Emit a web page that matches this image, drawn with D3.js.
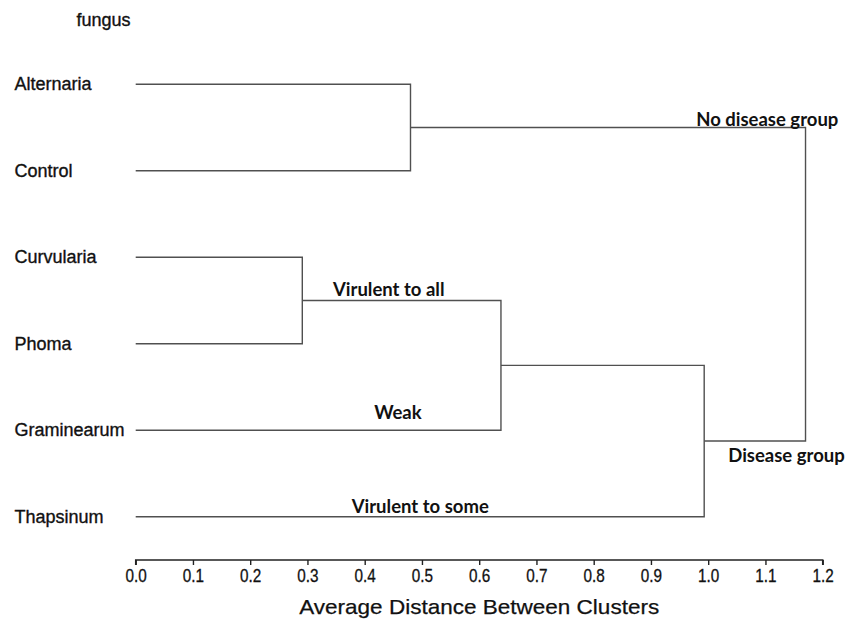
<!DOCTYPE html>
<html>
<head>
<meta charset="utf-8">
<script src="https://cdn.jsdelivr.net/npm/d3@7"></script>
<style>
  html, body { margin: 0; padding: 0; background: #fff; }
  svg { display: block; }
</style>
</head>
<body>
<svg id="chart" width="857" height="628"></svg>
<script>
// ---- data ----
const leaves = ["Alternaria", "Control", "Curvularia", "Phoma", "Graminearum", "Thapsinum"];
// merges (linkage): children refer to leaf names or merge ids "m0".."m4"
const mergeIds    = ["m0", "m1", "m2", "m3", "m4"];
const mergeLeft   = ["Alternaria", "Curvularia", "m1", "m2", "m0"];
const mergeRight  = ["Control", "Phoma", "Graminearum", "Thapsinum", "m3"];
const mergeHeight = [0.480, 0.291, 0.638, 0.993, 1.170];
const tickValues  = [0.0, 0.1, 0.2, 0.3, 0.4, 0.5, 0.6, 0.7, 0.8, 0.9, 1.0, 1.1, 1.2];
const axisTitle   = "Average Distance Between Clusters";
const leafTitle   = "fungus";
// group annotations: text, attached node
const annoText = ["No disease group", "Virulent to all", "Weak", "Virulent to some", "Disease group"];
const annoNode = ["m0", "m1", "Graminearum", "Thapsinum", "m3"];

// ---- build hierarchy ----
const nodes = {};
leaves.forEach(n => nodes[n] = { name: n, height: 0 });
mergeIds.forEach((id, i) => {
  nodes[id] = { name: id, height: mergeHeight[i], children: [nodes[mergeLeft[i]], nodes[mergeRight[i]]] };
});
const root = d3.hierarchy(nodes["m4"]);

// ---- scales ----
const x = d3.scaleLinear().domain([0, 1.2]).range([135.7, 822.7]);
const y = d3.scalePoint().domain(leaves).range([84.3, 516.7]);

root.eachAfter(d => {
  d.px = x(d.data.height);
  d.py = d.children ? d3.mean(d.children, c => c.py) : y(d.data.name);
});

const svg = d3.select("#chart");
const lineColor = "#505050";
const textColor = "#111";
const sans = "Liberation Sans, Arial, sans-serif";

// ---- dendrogram links ----
const g = svg.append("g").attr("fill", "none").attr("stroke", lineColor).attr("stroke-width", 1.4);
root.descendants().filter(d => d.children).forEach(d => {
  const [a, b] = d.children;
  const path = d3.path();
  path.moveTo(a.px, a.py);
  path.lineTo(d.px, a.py);
  path.lineTo(d.px, b.py);
  path.lineTo(b.px, b.py);
  g.append("path").attr("d", path.toString());
});

// ---- leaf labels ----
svg.append("g").selectAll("text").data(leaves).join("text")
  .attr("x", 14.5)
  .attr("y", d => y(d) + 6)
  .attr("font-family", sans)
  .attr("font-size", 18)
  .attr("fill", textColor).attr("stroke", textColor).attr("stroke-width", 0.35)
  .text(d => d);

svg.append("text")
  .attr("x", 103.5).attr("y", 26)
  .attr("text-anchor", "middle")
  .attr("font-family", sans)
  .attr("font-size", 18)
  .attr("fill", textColor).attr("stroke", textColor).attr("stroke-width", 0.35)
  .text(leafTitle);

// ---- axis ----
const axis = d3.axisBottom(x).tickValues(tickValues).tickFormat(d3.format(".1f")).tickSize(5).tickPadding(4);
const ax = svg.append("g").attr("transform", "translate(0,560)").call(axis);
ax.select(".domain").attr("stroke", "#222").attr("stroke-width", 1.5).attr("d", `M${x(0)},5V0H${x(1.2)}V5`);
ax.selectAll(".tick line").attr("stroke", "#222").attr("stroke-width", 1.4);
ax.selectAll(".tick text")
  .attr("font-family", sans)
  .attr("font-size", 18)
  .attr("fill", textColor).attr("stroke", textColor).attr("stroke-width", 0.3)
  .attr("transform", "scale(0.85,1)");

svg.append("text")
  .attr("x", x(0.6)).attr("y", 614)
  .attr("text-anchor", "middle")
  .attr("font-family", sans)
  .attr("font-size", 21)
  .attr("fill", textColor).attr("stroke", textColor).attr("stroke-width", 0.25)
  .attr("textLength", 360)
  .attr("lengthAdjust", "spacingAndGlyphs")
  .text(axisTitle);

// ---- annotations (layout: x in distance units, y offset from the attached node) ----
const annoX  = [0.979, 0.442, 0.458, 0.497, 1.035];
const annoDy = [-2, -5, -11, -4, 21];
const annoAnchor = ["start", "middle", "middle", "middle", "start"];
const byName = {};
root.descendants().forEach(d => byName[d.data.name] = d);
svg.append("g").selectAll("text").data(annoText).join("text")
  .attr("x", (d, i) => x(annoX[i]))
  .attr("y", (d, i) => byName[annoNode[i]].py + annoDy[i])
  .attr("text-anchor", (d, i) => annoAnchor[i])
  .attr("font-family", "Lato, 'Open Sans', sans-serif")
  .attr("font-weight", "bold")
  .attr("font-size", 18.5)
  .attr("fill", textColor)
  .text(d => d);
</script>
</body>
</html>
